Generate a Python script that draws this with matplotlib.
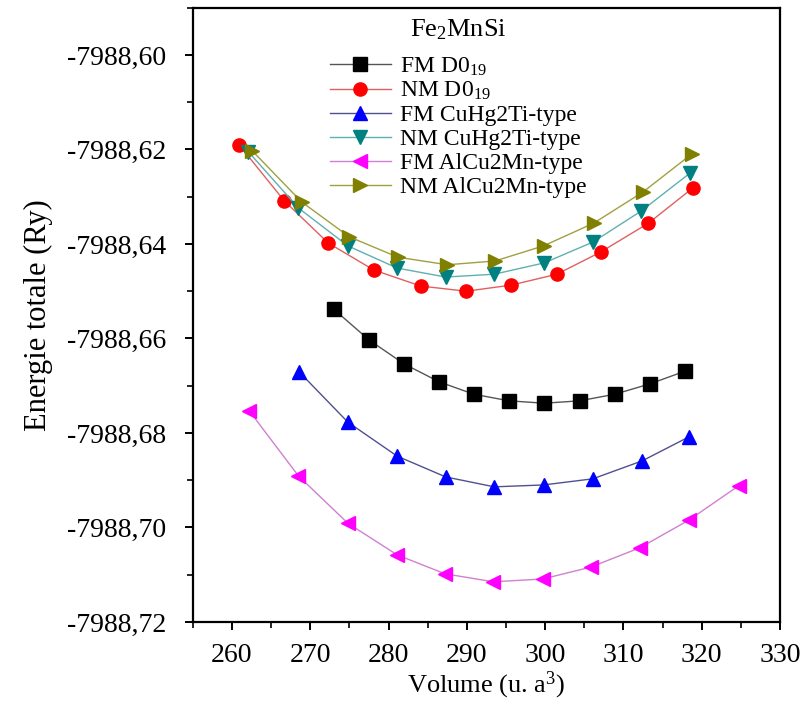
import matplotlib
matplotlib.use("Agg")
import matplotlib.pyplot as plt
from matplotlib.ticker import MultipleLocator, FuncFormatter

plt.rcParams['font.family'] = ['Liberation Serif', 'DejaVu Serif']
plt.rcParams['mathtext.fontset'] = 'custom'
plt.rcParams['mathtext.rm'] = 'Liberation Serif'
plt.rcParams['mathtext.it'] = 'Liberation Serif:italic'

# ---- data ----
fm_d019_v = [273.0, 277.5, 282.0, 286.5, 290.9, 295.4, 299.9, 304.4, 308.9, 313.4, 317.9]
fm_d019_e = [-7988.6538, -7988.6603, -7988.6654, -7988.6692, -7988.6718, -7988.6732,
             -7988.6737, -7988.6732, -7988.6718, -7988.6696, -7988.6669]

nm_d019_v = [260.9, 266.7, 272.3, 278.1, 284.1, 289.9, 295.7, 301.5, 307.1, 313.2, 318.9]
nm_d019_e = [-7988.6190, -7988.6309, -7988.6398, -7988.6455, -7988.6489, -7988.6500,
             -7988.6487, -7988.6464, -7988.6417, -7988.6356, -7988.6281]

fm_cuhg_v = [268.6, 274.8, 281.1, 287.3, 293.5, 299.8, 306.1, 312.4, 318.4]
fm_cuhg_e = [-7988.6671, -7988.6777, -7988.6849, -7988.6893, -7988.6914, -7988.6910,
             -7988.6897, -7988.6859, -7988.6808]

nm_cuhg_v = [262.1, 268.5, 274.8, 281.1, 287.3, 293.5, 299.9, 306.1, 312.3, 318.5]
nm_cuhg_e = [-7988.6205, -7988.6324, -7988.6404, -7988.6451, -7988.6470, -7988.6464,
             -7988.6440, -7988.6396, -7988.6330, -7988.6250]

fm_alcu_v = [262.2, 268.5, 274.8, 281.1, 287.2, 293.4, 299.7, 305.8, 312.1, 318.4, 324.7]
fm_alcu_e = [-7988.6753, -7988.6891, -7988.6991, -7988.7058, -7988.7098, -7988.7115,
             -7988.7109, -7988.7084, -7988.7043, -7988.6984, -7988.6912]

nm_alcu_v = [262.6, 268.9, 275.0, 281.2, 287.5, 293.6, 299.8, 306.2, 312.5, 318.7]
nm_alcu_e = [-7988.6203, -7988.6311, -7988.6385, -7988.6428, -7988.6444, -7988.6436,
             -7988.6404, -7988.6356, -7988.6290, -7988.6210]

series = [
    (fm_d019_v, fm_d019_e, 'FM D0$_{19}$', 's', '#000000', '#555555'),
    (nm_d019_v, nm_d019_e, 'NM D0$_{19}$', 'o', '#FF0000', '#E06060'),
    (fm_cuhg_v, fm_cuhg_e, 'FM CuHg2Ti-type', '^', '#0000FF', '#505090'),
    (nm_cuhg_v, nm_cuhg_e, 'NM CuHg2Ti-type', 'v', '#008080', '#60B0B0'),
    (fm_alcu_v, fm_alcu_e, 'FM AlCu2Mn-type', '<', '#FF00FF', '#D080D0'),
    (nm_alcu_v, nm_alcu_e, 'NM AlCu2Mn-type', '>', '#808000', '#A0A040'),
]

fig = plt.figure(figsize=(8.0, 7.02), dpi=100)
ax = fig.add_axes([0.241, 0.114, 0.734, 0.875])

for v, e, lab, mk, mc, lc in series:
    ax.plot(v, e, color=lc, lw=1.0, marker=mk, markersize=9.5,
            markerfacecolor=mc, markeredgecolor=mc, label=lab)

ax.set_xlim(255, 330)
ax.set_ylim(-7988.72, -7988.59)
ax.xaxis.set_major_locator(MultipleLocator(10))
ax.xaxis.set_minor_locator(MultipleLocator(5))
ax.yaxis.set_major_locator(MultipleLocator(0.02))
ax.yaxis.set_minor_locator(MultipleLocator(0.01))
ax.yaxis.set_major_formatter(FuncFormatter(lambda y, p: f"{y:.2f}".replace('.', ',')))
ax.xaxis.set_major_formatter(FuncFormatter(lambda x, p: f"{x:.0f}"))

for s in ax.spines.values():
    s.set_linewidth(1.6)
ax.tick_params(which='major', direction='out', length=6, width=1.4, labelsize=20)
ax.tick_params(axis='y', which='major', pad=13)
ax.tick_params(axis='x', which='major', pad=9)
ax.tick_params(which='minor', direction='out', length=4, width=1.2)
ax.tick_params(top=False, right=False)

ax.set_xlabel('Volume (u. a$^3$)', fontsize=19, labelpad=1)
ax.set_ylabel('Energie totale (Ry)', fontsize=22, labelpad=10)

leg = ax.legend(loc='upper left', bbox_to_anchor=(0.233, 0.985), frameon=False,
                fontsize=17, title='Fe$_2$MnSi', title_fontsize=19,
                handlelength=2.6, handletextpad=0.4, labelspacing=0.1,
                borderpad=0, borderaxespad=0)
leg._legend_box.sep = 10

fig.savefig('out.png', dpi=100)
